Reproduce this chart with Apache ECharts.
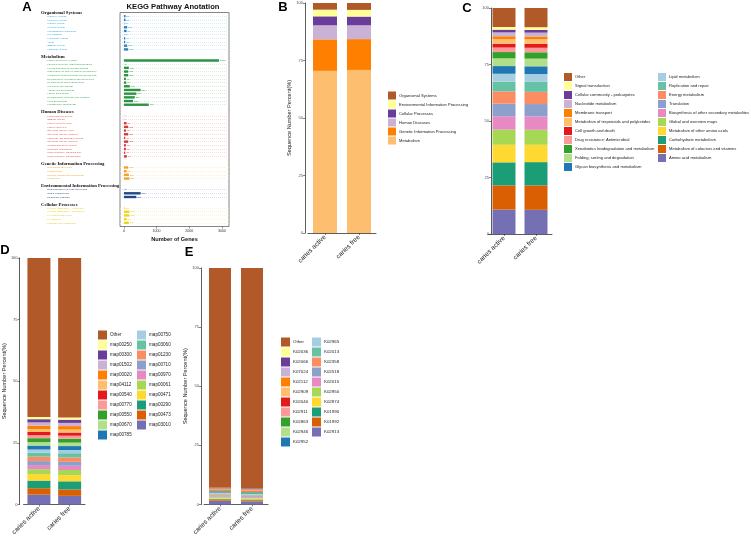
<!DOCTYPE html>
<html lang="en">
<head>
<meta charset="UTF-8">
<title>KEGG annotation</title>
<style type="text/css">
  html, body { margin: 0; padding: 0; background: #fff; }
  #main { width: 751px; height: 538px; }
</style>
<script type="text/javascript" src="https://cdn.jsdelivr.net/npm/echarts@6/dist/echarts.min.js"></script>
</head>
<body>
<div id="main"></div>
<script type="text/javascript">
var chart = echarts.init(document.getElementById('main'));

// ---------- panel A : KEGG level-2 gene counts ----------
var groupNames = ['Organismal Systems', 'Metabolism', 'Human Diseases',
  'Genetic Information Processing', 'Environmental Information Processing', 'Cellular Processes'];

var orgTerms = ['Digestive system', 'Excretory system', 'Sensory system', 'Nervous system',
  'Environmental adaptation', 'Development', 'Circulatory system', 'Aging', 'Immune system', 'Endocrine system'];
var orgCounts = [50, 50, 10, 100, 80, 10, 40, 40, 100, 130];

var metTerms = ['Global and overview maps', 'Chemical structure transformation maps',
  'Glycan biosynthesis and metabolism', 'Biosynthesis of other secondary metabolites',
  'Xenobiotics biodegradation and metabolism', 'Metabolism of terpenoids and polyketides',
  'Metabolism of other amino acids', 'Nucleotide metabolism', 'Amino acid metabolism',
  'Energy metabolism', 'Metabolism of cofactors and vitamins', 'Lipid metabolism', 'Carbohydrate metabolism'];
var metCounts = [2910, 5, 150, 130, 130, 60, 70, 180, 510, 380, 330, 280, 760];

var hdTerms = ['Cardiovascular disease', 'Immune disease', 'Cancer: specific types', 'Cancer: overview',
  'Infectious disease: viral', 'Infectious disease: parasitic', 'Endocrine and metabolic disease',
  'Infectious disease: bacterial', 'Neurodegenerative disease', 'Substance dependence',
  'Drug resistance: antineoplastic', 'Drug resistance: antimicrobial'];
var hdCounts = [4, 4, 80, 130, 60, 130, 40, 130, 60, 60, 40, 90];

var gipTerms = ['Replication and repair', 'Transcription', 'Folding, sorting and degradation', 'Translation'];
var gipCounts = [130, 80, 150, 170];

var envTerms = ['Signaling molecules and interaction', 'Signal transduction', 'Membrane transport'];
var envCounts = [3, 510, 380];

var cellTerms = ['Cellular community - eukaryotes', 'Cellular community - prokaryotes',
  'Cell growth and death', 'Cell motility', 'Transport and catabolism'];
var cellCounts = [20, 170, 170, 80, 150];

var geneTicks = [0, 1000, 2000, 3000];

// ---------- panels B-E : stacked percentages (bottom -> top) ----------
var samples = ['caries active', 'caries free'];

var bTerms = ['Metabolism', 'Genetic Information Processing', 'Human Diseases',
  'Cellular Processes', 'Environmental Information Processing', 'Organismal Systems'];
var bActive = [70.5, 13.7, 6.1, 3.9, 2.9, 2.9];
var bFree = [70.9, 13.4, 6.0, 3.8, 2.9, 3.0];

var cTerms = ['Amino acid metabolism', 'Metabolism of cofactors and vitamins', 'Carbohydrate metabolism',
  'Metabolism of other amino acids', 'Global and overview maps', 'Biosynthesis of other secondary metabolites',
  'Translation', 'Energy metabolism', 'Replication and repair', 'Lipid metabolism',
  'Glycan biosynthesis and metabolism', 'Folding, sorting and degradation',
  'Xenobiotics biodegradation and metabolism', 'Drug resistance: Antimicrobial', 'Cell growth and death',
  'Metabolism of terpenoids and polyketides', 'Membrane transport', 'Nucleotide metabolism',
  'Cellular community - prokaryotes', 'Signal transduction', 'Other'];
var cActive = [10.8, 10.7, 10.2, 7.8, 6.7, 5.9, 5.6, 5.4, 4.3, 3.5, 3.4, 3.4, 2.8, 2.0, 1.7, 2.1, 1.2, 1.7, 1.2, 1.2, 8.4];
var cFree = [10.7, 10.8, 10.3, 7.7, 6.6, 5.9, 5.5, 5.4, 4.4, 3.5, 3.4, 3.4, 2.8, 2.0, 1.7, 2.1, 1.2, 1.7, 1.2, 1.2, 8.5];

var dTerms = ['map03010', 'map00473', 'map00290', 'map00471', 'map00061', 'map00970', 'map00710',
  'map01230', 'map03060', 'map00750', 'map00785', 'map00670', 'map00550', 'map00770', 'map00540',
  'map04112', 'map00020', 'map01502', 'map00300', 'map00250', 'Other'];
var dActive = [4.0, 2.6, 3.1, 2.6, 2.0, 1.7, 1.6, 1.8, 1.6, 1.3, 1.6, 1.4, 1.6, 1.2, 1.3, 1.2, 1.4, 1.3, 1.3, 0.9, 64.5];
var dFree = [3.5, 2.6, 3.3, 2.5, 2.1, 1.7, 1.6, 1.8, 1.7, 1.3, 1.6, 1.4, 1.6, 1.2, 1.3, 1.2, 1.4, 1.3, 1.3, 0.9, 64.7];

var eTerms = ['K02913', 'K01992', 'K01990', 'K02874', 'K02950', 'K02015', 'K02518', 'K02358', 'K02013',
  'K02965', 'K02952', 'K02946', 'K02863', 'K02911', 'K02040', 'K02909', 'K02112', 'K07024', 'K02066',
  'K02036', 'Other'];
var eActive = [1.6, 0.5, 0.3, 0.4, 0.3, 0.3, 0.3, 0.5, 0.3, 0.4, 0.3, 0.2, 0.3, 0.2, 0.2, 0.2, 0.3, 0.2, 0.2, 0.1, 92.9];
var eFree = [1.3, 0.5, 0.3, 0.4, 0.3, 0.3, 0.4, 0.3, 0.3, 0.4, 0.3, 0.2, 0.3, 0.2, 0.2, 0.2, 0.3, 0.2, 0.2, 0.1, 93.3];

// colours
var groupText = ['#1e9ad6', '#2f9e44', '#d9413f', '#f39c12', '#1f3f73', '#e3cb1a'];
var groupBar = ['#2f7fc1', '#2b9443', '#d23c3a', '#f5a02a', '#1f4a85', '#efd31e'];
var groupLine = ['#c3e3f4', '#c6e7cc', '#f3cbca', '#fde3bb', '#c4cee2', '#f7f0b6'];
var palette21 = ['#7570b3', '#d95f02', '#1b9e77', '#ffd92f', '#a6d854', '#e78ac3', '#8da0cb', '#fc8d62',
  '#66c2a5', '#a6cee3', '#1f78b4', '#b2df8a', '#33a02c', '#fb9a99', '#e31a1c', '#fdbf6f', '#ff7f00',
  '#cab2d6', '#6a3d9a', '#ffff99', '#b15928'];
var paletteB = ['#fdbf6f', '#ff7f00', '#cab2d6', '#6a3d9a', '#ffff99', '#b15928'];

// ---------- build panel A slots ----------
var aTerms = [orgTerms, metTerms, hdTerms, gipTerms, envTerms, cellTerms];
var aCounts = [orgCounts, metCounts, hdCounts, gipCounts, envCounts, cellCounts];
var slots = [];
aTerms.forEach(function (terms, g) {
  if (g > 0) slots.push({ kind: 'blank' });
  slots.push({ kind: 'head', text: groupNames[g] });
  terms.forEach(function (t, i) {
    slots.push({ kind: 'row', text: t, group: g, value: aCounts[g][i] });
  });
});
slots.push({ kind: 'blank' });

var rich = {
  h: { fontFamily: 'Liberation Serif', fontWeight: 'bold', fontSize: 4.7, color: '#111' }
};
groupText.forEach(function (c, i) {
  rich['g' + i] = { fontFamily: 'Liberation Serif', fontSize: 2.8, color: c, padding: [0, 0, 0, 6] };
});

var fontSans = 'Liberation Sans';

function percentYAxis(idx, off, title) {
  return {
    type: 'value', gridIndex: idx, min: 0, max: 100, interval: 25, offset: off,
    axisLine: { show: true, lineStyle: { color: '#333', width: 0.8 } },
    axisTick: { show: true, length: 2, lineStyle: { color: '#333', width: 0.6 } },
    axisLabel: { fontSize: 4, color: '#4d4d4d', margin: 2, fontFamily: fontSans },
    splitLine: { show: false },
    name: title || '', nameLocation: 'middle', nameGap: 12,
    nameTextStyle: { fontSize: 5.6, color: '#1a1a1a', fontFamily: fontSans }
  };
}
function sampleXAxis(idx) {
  return {
    type: 'category', gridIndex: idx, data: samples,
    axisLine: { show: true, lineStyle: { color: '#333', width: 0.8 } },
    axisTick: { show: true, length: 2, alignWithLabel: true, lineStyle: { color: '#333', width: 0.6 } },
    axisLabel: { rotate: 45, interval: 0, fontSize: 6.6, color: '#1a1a1a', margin: 3, fontFamily: fontSans }
  };
}
function stackSeries(idx, terms, active, free, colors, width) {
  return terms.map(function (t, i) {
    return {
      name: t, type: 'bar', stack: 'p' + idx, xAxisIndex: idx, yAxisIndex: idx,
      barWidth: width, data: [active[i], free[i]],
      itemStyle: { color: colors[i] }
    };
  });
}
function legendBox(names, left, top, size, font) {
  return {
    orient: 'vertical', left: left, top: top, padding: 0, itemGap: 1,
    itemWidth: size, itemHeight: size, icon: 'rect', selectedMode: false,
    textStyle: { fontSize: font, color: '#222', fontFamily: fontSans, padding: [0, 0, 0, -2] },
    data: names
  };
}
function rev(a) { return a.slice().reverse(); }

var series = [{
  type: 'bar', xAxisIndex: 0, yAxisIndex: 0, barWidth: 2.4,
  data: slots.map(function (s) {
    if (s.kind !== 'row') return '-';
    return { value: s.value, itemStyle: { color: groupBar[s.group] }, label: { color: groupText[s.group] } };
  }),
  label: { show: true, position: 'right', distance: 1, fontSize: 2.4, fontFamily: fontSans, formatter: '{c}' }
}];
series = series
  .concat(stackSeries(1, bTerms, bActive, bFree, paletteB, 24))
  .concat(stackSeries(2, cTerms, cActive, cFree, palette21, 23))
  .concat(stackSeries(3, dTerms, dActive, dFree, palette21, 23))
  .concat(stackSeries(4, eTerms, eActive, eFree, palette21, 22));

var cRev = rev(cTerms), dRev = rev(dTerms), eRev = rev(eTerms);

function letter(t, x, y) {
  return { type: 'text', x: x, y: y, style: { text: t, font: 'bold 13px "Liberation Sans"', fill: '#000', textAlign: 'center', textVerticalAlign: 'middle' } };
}

chart.setOption({
  animation: false,
  backgroundColor: '#fff',
  grid: [
    { left: 120, top: 12.5, width: 109, height: 214, show: true, borderColor: '#666', borderWidth: 0.8 },
    { left: 308, top: 3, width: 68, height: 230 },
    { left: 488, top: 8, width: 64, height: 226 },
    { left: 22, top: 258, width: 63, height: 251 },
    { left: 204, top: 268, width: 64, height: 242 }
  ],
  xAxis: [
    {
      type: 'value', gridIndex: 0, min: -120, max: 3215,
      axisLine: { show: false },
      axisTick: { show: true, length: 2, customValues: geneTicks, lineStyle: { color: '#555', width: 0.6 } },
      axisLabel: {
        customValues: geneTicks, fontSize: 3.6, color: '#333', margin: 2, fontFamily: fontSans,
        formatter: function (v) { return String(v); }
      },
      splitLine: { show: false },
      name: 'Number of Genes', nameLocation: 'middle', nameGap: 10,
      nameTextStyle: { fontSize: 5.6, fontWeight: 'bold', color: '#111', fontFamily: fontSans }
    },
    sampleXAxis(1), sampleXAxis(2), sampleXAxis(3), sampleXAxis(4)
  ],
  yAxis: [
    {
      type: 'category', gridIndex: 0, inverse: true, boundaryGap: false,
      data: slots.map(function (s, i) { return 's' + i; }),
      axisLine: { show: false }, axisTick: { show: false },
      axisLabel: {
        interval: 0, align: 'left', margin: 79, rich: rich,
        formatter: function (v, i) {
          var s = slots[i];
          if (!s || s.kind === 'blank') return '';
          if (s.kind === 'head') return '{h|' + s.text + '}';
          return '{g' + s.group + '|' + s.text + '}';
        }
      },
      splitLine: {
        show: true,
        lineStyle: {
          width: 0.6, type: [1, 1],
          color: slots.map(function (s) { return s.kind === 'row' ? groupLine[s.group] : 'rgba(0,0,0,0)'; })
        }
      }
    },
    percentYAxis(1, 3, 'Sequence Number Percent(%)'),
    percentYAxis(2, -3, ''),
    percentYAxis(3, 4, 'Sequence Number Percent(%)'),
    percentYAxis(4, 3, 'Sequence Number Percent(%)')
  ],
  legend: [
    legendBox(rev(bTerms), 388, 91.5, 8, 4.1),
    legendBox(cRev.slice(0, 11), 564, 73, 8, 4.1),
    legendBox(cRev.slice(11), 658, 73, 8, 4.1),
    legendBox(dRev.slice(0, 11), 98, 330.5, 9, 4.6),
    legendBox(dRev.slice(11), 137, 330.5, 9, 4.6),
    legendBox(eRev.slice(0, 11), 281, 337.5, 9, 4.4),
    legendBox(eRev.slice(11), 312, 337.5, 9, 4.4)
  ],
  graphic: [
    { type: 'text', x: 173, y: 7, style: { text: 'KEGG Pathway Anotation', font: 'bold 7.6px "Liberation Sans"', fill: '#111', textAlign: 'center', textVerticalAlign: 'middle' } },
    letter('A', 27, 7),
    letter('B', 283, 7),
    letter('C', 467, 8),
    letter('D', 5, 250),
    letter('E', 189, 252)
  ],
  series: series
});
</script>
</body>
</html>
